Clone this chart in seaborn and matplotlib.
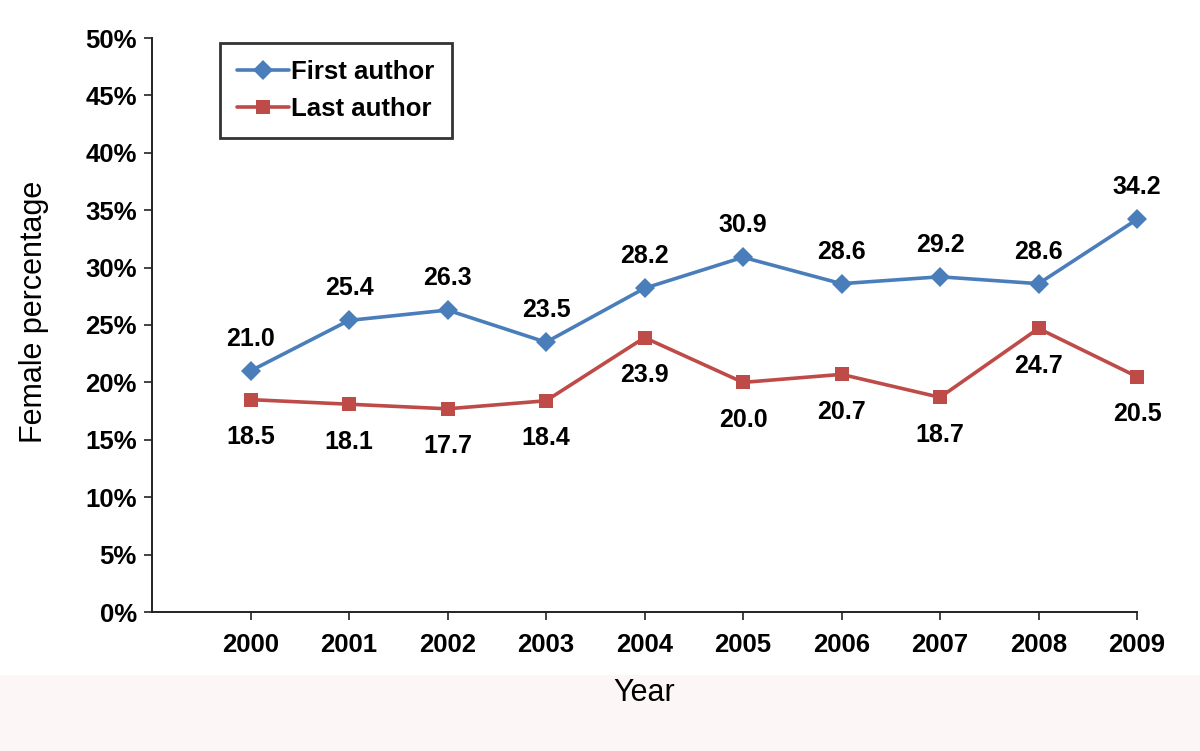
import matplotlib
matplotlib.use("Agg")
import matplotlib.pyplot as plt
import matplotlib.patches as mpatches
import seaborn as sns
import pandas as pd
import numpy as np

years = ["2000", "2001", "2002", "2003", "2004", "2005", "2006", "2007", "2008", "2009"]
first_author = [21.0, 25.4, 26.3, 23.5, 28.2, 30.9, 28.6, 29.2, 28.6, 34.2]
last_author = [18.5, 18.1, 17.7, 18.4, 23.9, 20.0, 20.7, 18.7, 24.7, 20.5]
y_ticks = [0, 5, 10, 15, 20, 25, 30, 35, 40, 45, 50]

sns.set_style("white")
plt.rcParams['font.family'] = ['Liberation Sans', 'DejaVu Sans']
plt.rcParams['text.color'] = 'black'
plt.rcParams['axes.labelcolor'] = 'black'
plt.rcParams['xtick.color'] = 'black'
plt.rcParams['ytick.color'] = 'black'

df = pd.DataFrame({
    "idx": list(range(len(years))) * 2,
    "value": first_author + last_author,
    "series": ["First author"] * len(years) + ["Last author"] * len(years),
})

fig = plt.figure(figsize=(12, 7.51), dpi=100)
fig.patch.set_facecolor("white")
# light pink band at bottom
band = mpatches.Rectangle((0, 0), 1, 76 / 751, transform=fig.transFigure,
                          facecolor="#fdf6f6", edgecolor="none", zorder=-10)
fig.patches.append(band)
ax = fig.add_axes([152 / 1200, 1 - 612 / 751, (1137 - 152) / 1200, (612 - 38) / 751])
ax.set_facecolor("none")
ax.set_zorder(5)

palette = {"First author": "#4a7ebb", "Last author": "#be4b48"}
sns.lineplot(data=df, x="idx", y="value", hue="series", style="series",
             markers={"First author": "D", "Last author": "s"}, dashes=False,
             palette=palette, linewidth=2.6, markersize=10.5, markeredgewidth=0,
             ax=ax)
for ln in ax.lines:
    ln.set_clip_on(False)

for i, v in enumerate(first_author):
    ax.annotate(f"{v:.1f}", (i, v), xytext=(0, 23), textcoords="offset points",
                ha="center", va="center", fontsize=18, fontweight="bold")
for i, v in enumerate(last_author):
    ax.annotate(f"{v:.1f}", (i, v), xytext=(0, -27), textcoords="offset points",
                ha="center", va="center", fontsize=18, fontweight="bold")

ax.set_xlim(-1, 9)
ax.set_ylim(0, 50)
ax.set_xticks(range(len(years)))
ax.set_xticklabels(years, fontsize=18.5, fontweight="bold")
ax.set_yticks(y_ticks)
ax.set_yticklabels([f"{t}%" for t in y_ticks], fontsize=18.5, fontweight="bold")
ax.tick_params(axis="both", direction="out", length=6, width=1.2, color="#222222",
               left=True, bottom=True, pad=5)
ax.tick_params(axis="x", pad=9)
for s in ["top", "right"]:
    ax.spines[s].set_visible(False)
for s in ["left", "bottom"]:
    ax.spines[s].set_color("#222222")
    ax.spines[s].set_linewidth(1.4)

ax.set_xlabel("Year", fontsize=22, labelpad=15)
ax.set_ylabel("Female percentage", fontsize=22)
ax.yaxis.set_label_coords((49 - 152) / 985, (612 - 312) / 574)

leg = ax.legend(loc="upper left", bbox_to_anchor=((220 - 152) / 985, 1 - (43 - 38) / 574),
                fontsize=18.5, frameon=True, fancybox=False, handlelength=2.0,
                borderpad=0.68, labelspacing=0.48, handletextpad=0.1, borderaxespad=0)
leg.get_frame().set_edgecolor("black")
leg.get_frame().set_linewidth(2)
for t in leg.get_texts():
    t.set_fontweight("bold")

fig.savefig("out.png", dpi=100)
